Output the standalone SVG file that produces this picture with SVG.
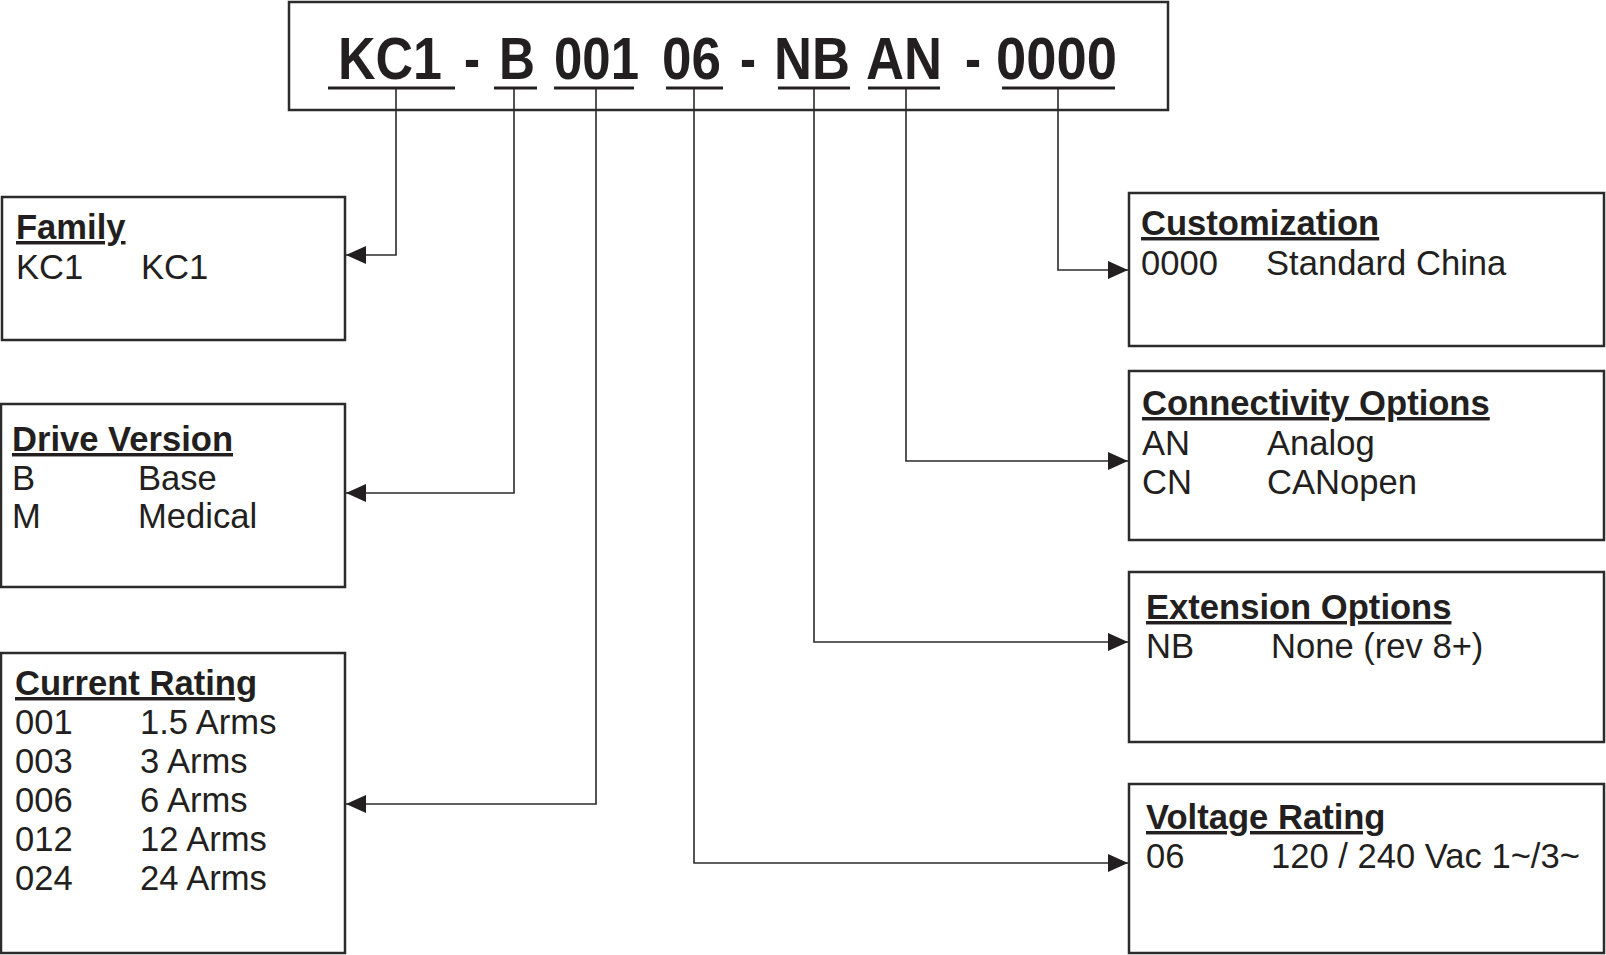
<svg xmlns="http://www.w3.org/2000/svg" width="1606" height="955" viewBox="0 0 1606 955">
<style>
.box{fill:#fff;stroke:#2b2b2b;stroke-width:2.5}
.t{font-family:"Liberation Sans",Arial,sans-serif;font-size:34.6px;fill:#231f20}
.h{font-weight:bold;text-decoration:underline}
.title{font-family:"Liberation Sans Narrow","Liberation Sans",Arial,sans-serif;font-weight:bold;font-size:59px;fill:#231f20}
.ul{stroke:#231f20;stroke-width:3}
.c{fill:none;stroke:#2b2b2b;stroke-width:1.6}
</style>
<defs>
<marker id="ah" markerUnits="userSpaceOnUse" markerWidth="22" markerHeight="20" refX="20" refY="10" orient="auto">
<path d="M0,1 L20,10 L0,19 Z" fill="#231f20"/>
</marker>
</defs>
<rect width="1606" height="955" fill="#fff"/>

<g id="title">
<rect class="box" x="289" y="2" width="879" height="108"/>
<text class="title" x="338" y="79" textLength="104" lengthAdjust="spacingAndGlyphs">KC1</text>
<text class="title" x="464" y="79" textLength="16" lengthAdjust="spacingAndGlyphs">-</text>
<text class="title" x="499" y="79" textLength="36" lengthAdjust="spacingAndGlyphs">B</text>
<text class="title" x="554" y="79" textLength="85" lengthAdjust="spacingAndGlyphs">001</text>
<text class="title" x="662" y="79" textLength="59" lengthAdjust="spacingAndGlyphs">06</text>
<text class="title" x="740" y="79" textLength="16" lengthAdjust="spacingAndGlyphs">-</text>
<text class="title" x="774" y="79" textLength="76" lengthAdjust="spacingAndGlyphs">NB</text>
<text class="title" x="866" y="79" textLength="76" lengthAdjust="spacingAndGlyphs">AN</text>
<text class="title" x="965" y="79" textLength="16" lengthAdjust="spacingAndGlyphs">-</text>
<text class="title" x="996" y="79" textLength="121" lengthAdjust="spacingAndGlyphs">0000</text>
<line class="ul" x1="328" y1="88" x2="455" y2="88"/>
<line class="ul" x1="494" y1="88" x2="537" y2="88"/>
<line class="ul" x1="554" y1="88" x2="634" y2="88"/>
<line class="ul" x1="666" y1="88" x2="723" y2="88"/>
<line class="ul" x1="778" y1="88" x2="850" y2="88"/>
<line class="ul" x1="868" y1="88" x2="940" y2="88"/>
<line class="ul" x1="1002" y1="88" x2="1115" y2="88"/>
</g>

<g id="family">
<rect class="box" x="2" y="197" width="343" height="143"/>
<text class="t h" x="16" y="239">Family</text>
<text class="t" x="16" y="279">KC1</text>
<text class="t" x="141" y="279">KC1</text>
</g>

<g id="drive-version">
<rect class="box" x="1" y="404" width="344" height="183"/>
<text class="t h" x="12" y="451">Drive Version</text>
<text class="t" x="12" y="490">B</text>
<text class="t" x="138" y="490">Base</text>
<text class="t" x="12" y="528">M</text>
<text class="t" x="138" y="528">Medical</text>
</g>

<g id="current-rating">
<rect class="box" x="1" y="653" width="344" height="300"/>
<text class="t h" x="15" y="695">Current Rating</text>
<text class="t" x="15" y="734">001</text><text class="t" x="140" y="734">1.5 Arms</text>
<text class="t" x="15" y="773">003</text><text class="t" x="140" y="773">3 Arms</text>
<text class="t" x="15" y="812">006</text><text class="t" x="140" y="812">6 Arms</text>
<text class="t" x="15" y="851">012</text><text class="t" x="140" y="851">12 Arms</text>
<text class="t" x="15" y="890">024</text><text class="t" x="140" y="890">24 Arms</text>
</g>

<g id="customization">
<rect class="box" x="1129" y="193" width="475" height="153"/>
<text class="t h" x="1141" y="235">Customization</text>
<text class="t" x="1141" y="275">0000</text>
<text class="t" x="1266" y="275">Standard China</text>
</g>

<g id="connectivity">
<rect class="box" x="1129" y="371" width="475" height="169"/>
<text class="t h" x="1142" y="415">Connectivity Options</text>
<text class="t" x="1142" y="455">AN</text><text class="t" x="1267" y="455">Analog</text>
<text class="t" x="1142" y="494">CN</text><text class="t" x="1267" y="494">CANopen</text>
</g>

<g id="extension">
<rect class="box" x="1129" y="572" width="475" height="170"/>
<text class="t h" x="1146" y="619">Extension Options</text>
<text class="t" x="1146" y="658">NB</text><text class="t" x="1271" y="658">None (rev 8+)</text>
</g>

<g id="voltage">
<rect class="box" x="1129" y="784" width="475" height="169"/>
<text class="t h" x="1146" y="829">Voltage Rating</text>
<text class="t" x="1146" y="868">06</text><text class="t" x="1271" y="868">120 / 240 Vac 1~/3~</text>
</g>

<g id="connectors">
<polyline class="c" points="396,89 396,255 346,255" marker-end="url(#ah)"/>
<polyline class="c" points="514,89 514,493 346,493" marker-end="url(#ah)"/>
<polyline class="c" points="596,89 596,804 346,804" marker-end="url(#ah)"/>
<polyline class="c" points="694,89 694,863 1128,863" marker-end="url(#ah)"/>
<polyline class="c" points="814,89 814,642 1128,642" marker-end="url(#ah)"/>
<polyline class="c" points="906,89 906,461 1128,461" marker-end="url(#ah)"/>
<polyline class="c" points="1058,89 1058,270 1128,270" marker-end="url(#ah)"/>
</g>
</svg>
